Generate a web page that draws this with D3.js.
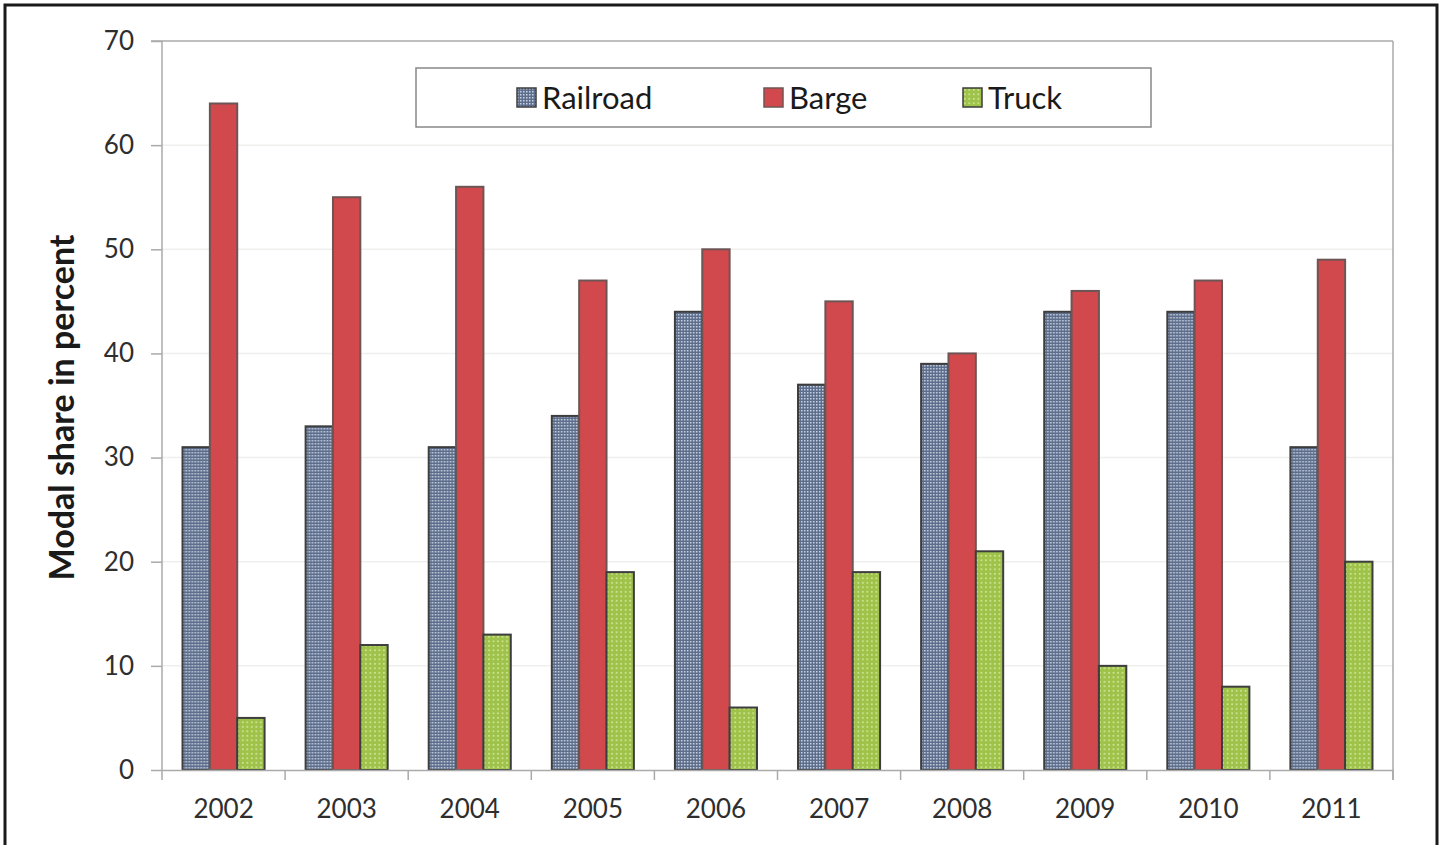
<!DOCTYPE html>
<html>
<head>
<meta charset="utf-8">
<script src="https://cdn.jsdelivr.net/npm/d3@7"></script>
<style>
  body { margin: 0; background: #fff; }
  svg { display: block; }
</style>
</head>
<body>
<svg width="1442" height="845"></svg>
<script>
// chart data
var years = ['2002', '2003', '2004', '2005', '2006', '2007', '2008', '2009', '2010', '2011']
var railroad = [31, 33, 31, 34, 44, 37, 39, 44, 44, 31]
var barge = [64, 55, 56, 47, 50, 45, 40, 46, 47, 49]
var truck = [5, 12, 13, 19, 6, 19, 21, 10, 8, 20]
var seriesNames = ['Railroad', 'Barge', 'Truck']
var yTicks = [0, 10, 20, 30, 40, 50, 60, 70]

var font = 'Lato, "Open Sans", sans-serif'

var svg = d3.select('svg')

// outer frame
svg.append('rect')
    .attr('x', 5).attr('y', 5)
    .attr('width', 1432).attr('height', 860)
    .attr('fill', 'none')
    .attr('stroke', '#1a1a1a')
    .attr('stroke-width', 3)

// dotted fill patterns for railroad and truck
var defs = svg.append('defs')
var pr = defs.append('pattern').attr('id', 'railPat')
    .attr('width', 3).attr('height', 3).attr('patternUnits', 'userSpaceOnUse')
pr.append('rect').attr('width', 3).attr('height', 3).attr('fill', '#5d6d8c')
pr.append('rect').attr('width', 1.5).attr('height', 1.5).attr('fill', '#c9d3e2')

var pt = defs.append('pattern').attr('id', 'truckPat')
    .attr('width', 4.5).attr('height', 4.5).attr('patternUnits', 'userSpaceOnUse')
pt.append('rect').attr('width', 4.5).attr('height', 4.5).attr('fill', '#9fc34a')
pt.append('rect').attr('x', 1).attr('y', 1).attr('width', 1.6).attr('height', 1.6).attr('fill', '#d6e8a0')

var fills = ['url(#railPat)', '#d1494c', 'url(#truckPat)']
var strokes = ['#3d3d3d', '#6e5555', '#3d3d3d']

var margin = { left: 162, top: 41, right: 49, bottom: 75 }
var width = 1442 - margin.left - margin.right,
    height = 845 - margin.top - margin.bottom

var g = svg.append('g').attr('transform', 'translate(' + margin.left + ',' + margin.top + ')')

var x = d3.scaleBand().domain(years).range([0, width]).paddingInner(1 / 3).paddingOuter(1 / 6)
var xSub = d3.scaleBand().domain(seriesNames).range([0, x.bandwidth()])
var y = d3.scaleLinear().domain([0, 70]).range([height, 0])

// faint gridlines
g.selectAll('.grid').data(yTicks.slice(1, -1)).enter().append('line')
    .attr('x1', 0).attr('x2', width)
    .attr('y1', function (d) { return y(d) }).attr('y2', function (d) { return y(d) })
    .attr('stroke', '#f0efee').attr('stroke-width', 1.5)

// top line of plot at 70
g.append('line').attr('x1', -11).attr('x2', width)
    .attr('y1', y(70)).attr('y2', y(70))
    .attr('stroke', '#aaa').attr('stroke-width', 1.5)
// right border of plot
g.append('line').attr('x1', width).attr('x2', width)
    .attr('y1', 0).attr('y2', height + 10)
    .attr('stroke', '#aaa').attr('stroke-width', 1.5)

// bars
var data = years.map(function (yr, i) {
    return { year: yr, values: [railroad[i], barge[i], truck[i]] }
})
var groups = g.selectAll('.grp').data(data).enter().append('g')
    .attr('transform', function (d) { return 'translate(' + x(d.year) + ',0)' })
groups.selectAll('rect').data(function (d) {
    return d.values.map(function (v, k) { return { name: seriesNames[k], v: v, k: k } })
}).enter().append('rect')
    .attr('x', function (d) { return xSub(d.name) })
    .attr('y', function (d) { return y(d.v) })
    .attr('width', xSub.bandwidth())
    .attr('height', function (d) { return height - y(d.v) })
    .attr('fill', function (d) { return fills[d.k] })
    .attr('stroke', function (d) { return strokes[d.k] })
    .attr('stroke-width', 2)

// axes
var yAxis = g.append('g')
    .call(d3.axisLeft(y).tickValues(yTicks).tickSize(11).tickPadding(17))
var xAxis = g.append('g')
    .attr('transform', 'translate(0,' + height + ')')
    .call(d3.axisBottom(x).tickSize(0).tickPadding(30))

// category separator ticks
var bounds = d3.range(years.length + 1).map(function (i) { return i * width / years.length })
g.selectAll('.xt').data(bounds).enter().append('line')
    .attr('x1', function (d) { return d }).attr('x2', function (d) { return d })
    .attr('y1', height).attr('y2', height + 10)
    .attr('stroke', '#aaa').attr('stroke-width', 1.5)

;[yAxis, xAxis].forEach(function (ax) {
    ax.select('.domain').attr('stroke', '#aaa').attr('stroke-width', 1.5)
    ax.selectAll('.tick line').attr('stroke', '#aaa').attr('stroke-width', 1.5)
    ax.selectAll('text').attr('fill', '#2e2e2e').style('font-family', font).style('font-size', '26px')
})
yAxis.select('.domain').attr('d', 'M0,' + height + 'V0')

// y axis title
svg.append('text')
    .attr('transform', 'translate(74,' + (margin.top + height / 2 + 2) + ') rotate(-90)')
    .attr('text-anchor', 'middle')
    .style('font-family', font).style('font-size', '34px').style('font-weight', 'bold')
    .attr('fill', '#1a1a1a')
    .text('Modal share in percent')

// legend
var lg = svg.append('g').attr('transform', 'translate(416,68)')
lg.append('rect').attr('width', 735).attr('height', 59)
    .attr('fill', '#fff').attr('stroke', '#888').attr('stroke-width', 1.5)
var legX = [101, 348, 547]
var items = lg.selectAll('.li').data(seriesNames).enter().append('g')
    .attr('transform', function (d, i) { return 'translate(' + legX[i] + ',20)' })
items.append('rect').attr('width', 19).attr('height', 19)
    .attr('fill', function (d, i) { return fills[i] })
    .attr('stroke', function (d, i) { return strokes[i] }).attr('stroke-width', 1.5)
items.append('text').attr('x', 25).attr('y', 10).attr('dy', '0.36em')
    .style('font-family', font).style('font-size', '31px')
    .attr('fill', '#1a1a1a')
    .text(function (d) { return d })
</script>
</body>
</html>
